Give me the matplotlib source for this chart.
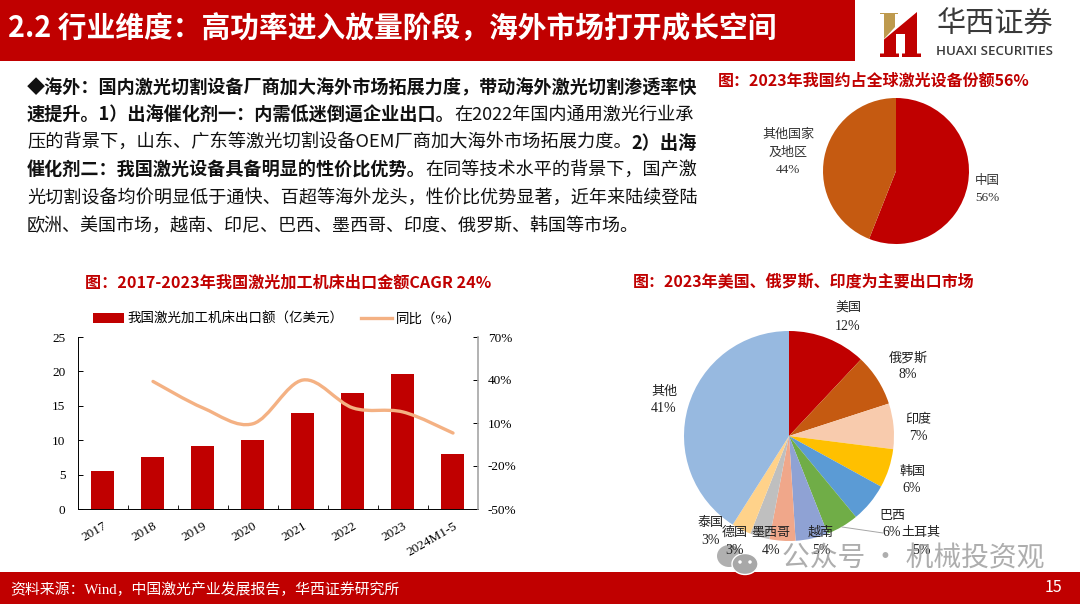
import matplotlib
matplotlib.use('Agg')
import matplotlib.pyplot as plt
from matplotlib.lines import Line2D
from matplotlib.patches import Ellipse, PathPatch, Polygon, Rectangle
from matplotlib.path import Path
from matplotlib.transforms import ScaledTranslation

W, H = 1080, 604
RED = '#C00000'
SANS = ['Noto Sans CJK SC', 'DejaVu Sans']
SERIF = ['Liberation Serif', 'Noto Sans CJK SC']

years = ['2017', '2018', '2019', '2020', '2021', '2022', '2023', '2024M1-5']
export_value = [5.5, 7.5, 9.1, 10.0, 13.9, 16.8, 19.6, 8.0]
yoy_pct = [None, 39, 20.5, 9.5, 40, 20.5, 17.7, 3]
left_ticks = [0, 5, 10, 15, 20, 25]
right_ticks = [-50, -20, 10, 40, 70]

share_names = ['中国', '其他国家及地区']
share_values = [56, 44]
share_colors = [RED, '#C55A11']

market_names = ['美国', '俄罗斯', '印度', '韩国', '巴西', '土耳其', '越南', '墨西哥', '德国', '泰国', '其他']
market_values = [12, 8, 7, 6, 6, 5, 5, 4, 3, 3, 41]
market_colors = ['#C00000', '#C55A11', '#F8CBAD', '#FFC000', '#5B9BD5', '#70AD47',
                 '#8FA2D4', '#F0A78A', '#BFBFBF', '#FFD28A', '#97B9E0']
# label centres in pixels, name line and value line are drawn apart
market_label_pos = [(848, 309), (908, 358), (918, 420), (912, 472), (892, 516), (921, 533),
                    (821, 533), (771, 533), (735, 533), (711, 523), (664, 392)]

body_lines = [
    [('◆海外：国内激光切割设备厂商加大海外市场拓展力度，带动海外激光切割渗透率快', True)],
    [('速提升。1）出海催化剂一：内需低迷倒逼企业出口。', True), ('在2022年国内通用激光行业承', False)],
    [('压的背景下，山东、广东等激光切割设备OEM厂商加大海外市场拓展力度。', False), ('2）出海', True)],
    [('催化剂二：我国激光设备具备明显的性价比优势。', True), ('在同等技术水平的背景下，国产激', False)],
    [('光切割设备均价明显低于通快、百超等海外龙头，性价比优势显著，近年来陆续登陆', False)],
    [('欧洲、美国市场，越南、印尼、巴西、墨西哥、印度、俄罗斯、韩国等市场。', False)],
]
body_y = [88, 115, 143, 170, 198, 226]
body_justified = [True, True, True, True, True, False]


def px_axes(fig, left, top, right, bottom):
    return fig.add_axes([left / W, 1 - bottom / H, (right - left) / W, (bottom - top) / H])


def smooth_path(xs, ys):
    # catmull-rom through the read values, same look as the smoothed line in the original
    verts = [(xs[0], ys[0])]
    codes = [Path.MOVETO]
    n = len(xs)
    for i in range(n - 1):
        x0, y0 = (xs[i - 1], ys[i - 1]) if i > 0 else (xs[i], ys[i])
        x1, y1 = xs[i], ys[i]
        x2, y2 = xs[i + 1], ys[i + 1]
        x3, y3 = (xs[i + 2], ys[i + 2]) if i + 2 < n else (x2, y2)
        verts += [(x1 + (x2 - x0) / 6, y1 + (y2 - y0) / 6),
                  (x2 - (x3 - x1) / 6, y2 - (y3 - y1) / 6),
                  (x2, y2)]
        codes += [Path.CURVE4] * 3
    return Path(verts, codes)


fig = plt.figure(figsize=(W / 100, H / 100), dpi=100, facecolor='white')

# bar + line chart
ax = px_axes(fig, 78, 337, 478, 509)
x_pos = list(range(len(years)))
ax.bar(x_pos, export_value, width=0.46, color=RED, label='我国激光加工机床出口额（亿美元）')
ax.set_xlim(-0.5, 7.5)
ax.set_ylim(0, 25)
ax.set_yticks(left_ticks)
ax.set_xticks(x_pos)
ax.set_xticklabels(years, rotation=30, ha='right', rotation_mode='anchor', fontsize=9.5, family=SERIF)
shift = ScaledTranslation(9 / 100, 0, fig.dpi_scale_trans)
for t in ax.get_xticklabels():
    t.set_transform(t.get_transform() + shift)
ax.set_xticks([i + 0.5 for i in x_pos[:-1]], minor=True)
ax.tick_params(axis='x', which='major', length=0, pad=8)
ax.tick_params(axis='x', which='minor', length=3, direction='in', width=0.6)
ax.tick_params(axis='y', direction='in', length=3.5, width=0.7, pad=9, labelsize=9.5)
for t in ax.get_yticklabels():
    t.set_family(SERIF)
ax.spines['top'].set_visible(False)
ax.spines['right'].set_visible(False)
ax.spines['left'].set_linewidth(0.7)
ax.spines['bottom'].set_linewidth(0.7)

ax2 = ax.twinx()
ax2.set_ylim(-50, 70)
ax2.set_yticks(right_ticks)
ax2.set_yticklabels(['%d%%' % v for v in right_ticks], fontsize=9.5, family=SERIF)
ax2.tick_params(axis='y', direction='in', length=3.5, width=0.7, pad=7)
ax2.spines['top'].set_visible(False)
ax2.spines['left'].set_visible(False)
ax2.spines['bottom'].set_visible(False)
ax2.spines['right'].set_color('#A6A6A6')
ax2.spines['right'].set_linewidth(1.2)
line_x = [x for x, v in zip(x_pos, yoy_pct) if v is not None]
line_y = [v for v in yoy_pct if v is not None]
ax2.add_patch(PathPatch(smooth_path(line_x, line_y), fill=False, edgecolor='#F4B183',
                        linewidth=2.4, capstyle='round'))
proxy = Line2D([], [], color='#F4B183', linewidth=2.4, label='同比（%）')
handles = [ax.containers[0], proxy]
ax.legend(handles=handles, loc='center', bbox_to_anchor=(277 / W, 1 - 319 / H),
          bbox_transform=fig.transFigure, ncol=2, frameon=False,
          prop={'family': SERIF, 'size': 9.7}, handlelength=2.3, handletextpad=0.3, columnspacing=1.3)

# share pie
pie1 = px_axes(fig, 823, 98, 969, 244)
pie1.pie(share_values, colors=share_colors, startangle=90, counterclock=False, radius=1)
pie1.set_xlim(-1, 1)
pie1.set_ylim(-1, 1)

# market pie
pie2 = px_axes(fig, 684, 331, 894, 541)
pie2.pie(market_values, colors=market_colors, startangle=90, counterclock=False, radius=1)
pie2.set_xlim(-1, 1)
pie2.set_ylim(-1, 1)

# everything else is drawn on a pixel overlay
ov = fig.add_axes([0, 0, 1, 1], zorder=5)
ov.set_xlim(0, W)
ov.set_ylim(H, 0)
ov.axis('off')
ov.patch.set_alpha(0)

ov.add_patch(Rectangle((0, 0), 855, 61, color=RED, lw=0))
ov.add_patch(Rectangle((0, 572), W, 32, color=RED, lw=0))
ov.text(8, 28, '2.2 行业维度：高功率进入放量阶段，海外市场打开成长空间', color='white',
        fontsize=20.7, fontweight='bold', family=SANS, va='center')
ov.text(10, 590, '资料来源：Wind，中国激光产业发展报告，华西证券研究所', color='white',
        fontsize=10.7, family=SERIF, va='center')
ov.text(1054, 588, '15', color='white', fontsize=11.5, family=SANS, ha='center', va='center')

# logo
ov.add_patch(Polygon([(880, 13), (898, 13), (898, 14), (895, 14), (895, 27), (884, 39), (884, 14), (880, 14)],
                     color='#BE9A4E', lw=0))
ov.add_patch(Polygon([(884, 39.5), (917, 12), (917, 53.5), (921, 53.5), (921, 57), (902, 57), (902, 53.5),
                      (905, 53.5), (905, 34), (896, 34), (896, 53.5), (899, 53.5), (899, 57), (880, 57),
                      (880, 53.5), (884, 53.5)], color=RED, lw=0))
ov.text(995, 25, '华西证券', fontsize=21, color='#3A3A3A', family=SANS, ha='center', va='center')
ov.text(994, 51.5, 'HUAXI SECURITIES', fontsize=9.6, color='#3A3A3A', family=['Open Sans'],
        fontweight='semibold', ha='center', va='center')

# chart titles
ov.text(85, 283, '图：2017-2023年我国激光加工机床出口金额CAGR 24%', color=RED, fontsize=11.6,
        fontweight='bold', family=SANS, va='center')
ov.text(633, 281, '图：2023年美国、俄罗斯、印度为主要出口市场', color=RED, fontsize=11.5,
        fontweight='bold', family=SANS, va='center')
ov.text(718, 81, '图：2023年我国约占全球激光设备份额56%', color=RED, fontsize=11.5,
        fontweight='bold', family=SANS, va='center')

# body text, bold and regular runs chained along each line
renderer = fig.canvas.get_renderer()
for line, y, justified in zip(body_lines, body_y, body_justified):
    size = 13
    texts = [ov.text(27, y, run, fontsize=size, color='#111111', family=SANS, va='center',
                     fontweight='bold' if bold else 'normal') for run, bold in line]
    if justified:
        # lines are flush right in the slide, scale each one to the column width
        size = size * 668 / sum(t.get_window_extent(renderer).width for t in texts)
        for t in texts:
            t.set_fontsize(size)
    x = 27
    for t in texts:
        t.set_x(x)
        x += t.get_window_extent(renderer).width

# pie labels
ov.text(788, 135, '其他国家', fontsize=9.4, family=SERIF, ha='center', va='center', color='#333333')
ov.text(788, 153, '及地区', fontsize=9.4, family=SERIF, ha='center', va='center', color='#333333')
ov.text(788, 170, '%d%%' % share_values[1], fontsize=9.5, family=SERIF, ha='center', va='center', color='#333333')
ov.text(987, 181, share_names[0], fontsize=9, family=SERIF, ha='center', va='center', color='#333333')
ov.text(987, 198, '%d%%' % share_values[0], fontsize=9.5, family=SERIF, ha='center', va='center', color='#333333')

ov.plot([842, 883], [527, 533], color='#A6A6A6', lw=0.7)
for name, val, (lx, ly) in zip(market_names, market_values, market_label_pos):
    ov.text(lx, ly, name, fontsize=9.4, family=SERIF, ha='center', va='center', color='#222222')
    ov.text(lx, ly + 17, '%d%%' % val, fontsize=10, family=SERIF, ha='center', va='center', color='#222222')

# watermark
ov.text(782, 558, '公众号 · 机械投资观', fontsize=20, color='#9A9A9A', alpha=0.8, family=SANS, va='center')
ov.add_patch(Ellipse((729, 556), 24, 22, color='#B0B0B0', lw=0))
ov.add_patch(Ellipse((745, 564), 26, 21, facecolor='#A8A8A8', edgecolor='white', lw=1))
ov.add_patch(Ellipse((740, 562), 3.5, 3.5, color='white', lw=0))
ov.add_patch(Ellipse((750, 562), 3.5, 3.5, color='white', lw=0))

fig.savefig('out.png', dpi=100, facecolor='white')
